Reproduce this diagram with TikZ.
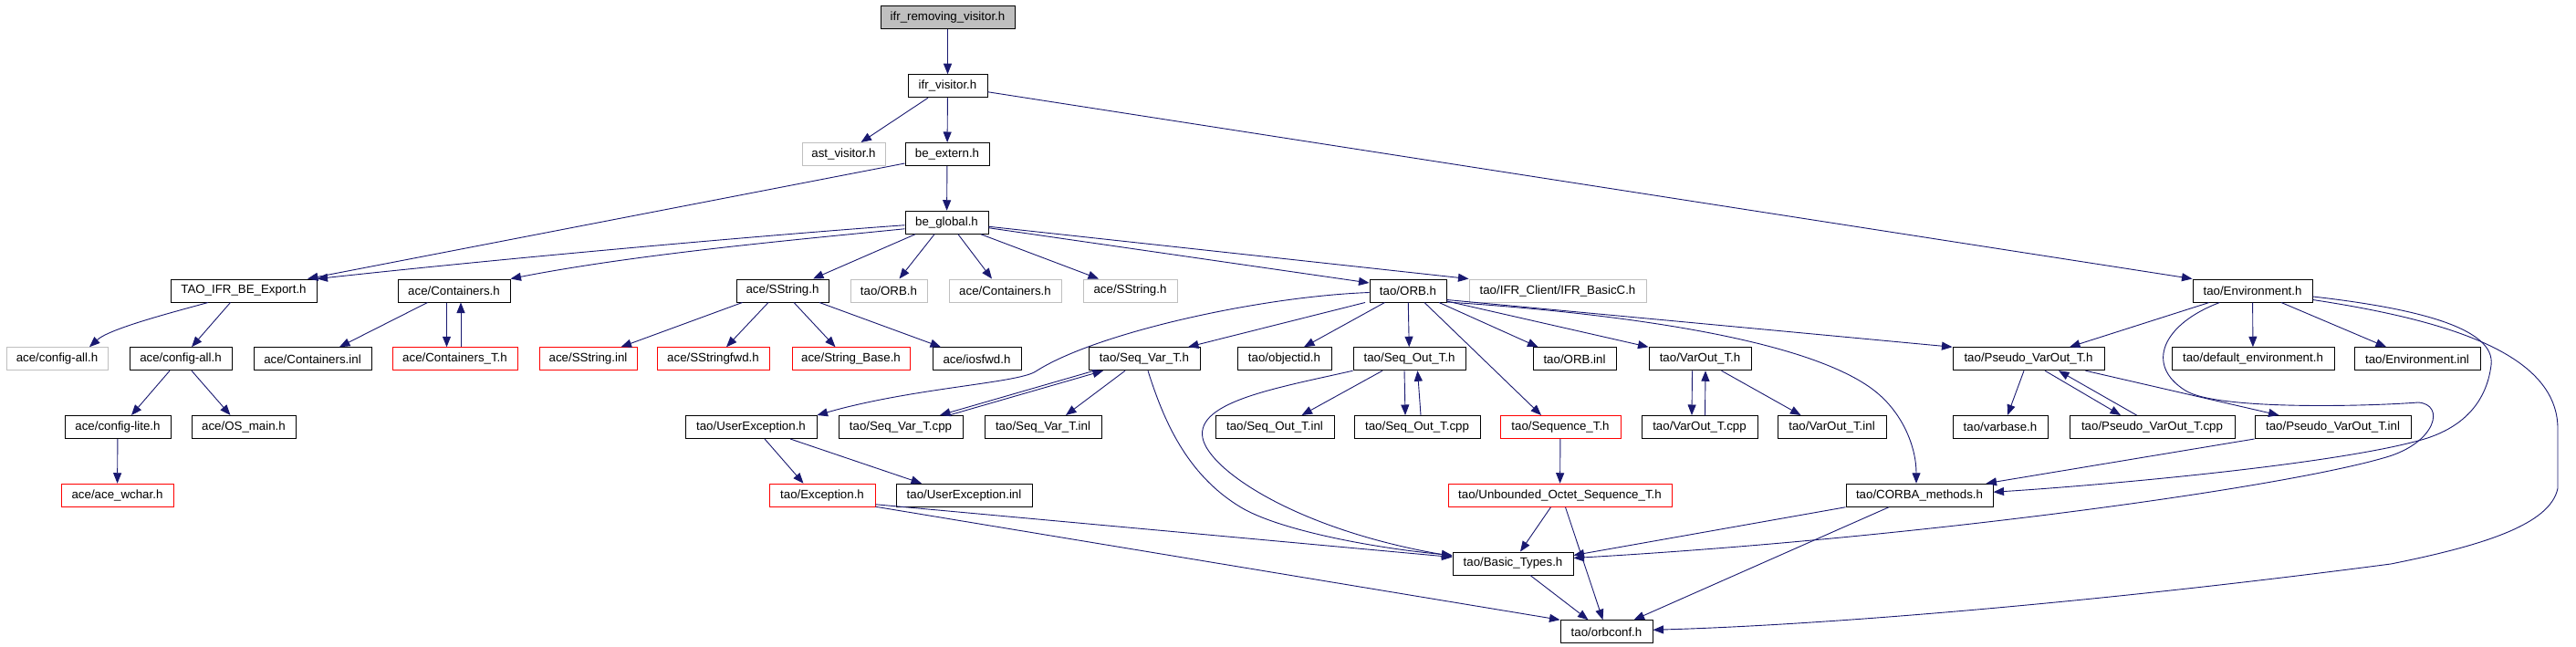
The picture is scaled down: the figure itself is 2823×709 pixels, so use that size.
\documentclass[tikz,border=0pt]{standalone}
\usepackage{fontspec}
\setmainfont{Liberation Sans}
\usetikzlibrary{arrows.meta}
\definecolor{edgec}{HTML}{191970}
\definecolor{graybox}{HTML}{BFBFBF}
\newcommand\lblfont{\fontsize{13.3pt}{15pt}\selectfont}
\begin{document}
\begin{tikzpicture}[x=1pt,y=1pt,
  nb/.style={draw=black, line width=1pt, minimum height=25pt, inner sep=1pt, font=\lblfont, fill=white},
  ng/.style={nb, draw=graybox},
  nr/.style={nb, draw=red},
  e/.style={draw=edgec, line width=0.9pt, -{Triangle[length=11.5pt,width=9pt]}}]
\fill[white] (0,0) rectangle (2823,-709);
\useasboundingbox (0,0) rectangle (2823,-709);
% row 0
\node[nb, fill=graybox, minimum width=147pt] (rem) at (1038.5,-19.5) {ifr\_removing\_visitor.h};
% row 1
\node[nb, minimum width=87pt] (ifrv) at (1038.5,-94.25) {ifr\_visitor.h};
% row 2
\node[ng, minimum width=91pt] (ast) at (924.5,-169) {ast\_visitor.h};
\node[nb, minimum width=92pt] (bext) at (1038,-169) {be\_extern.h};
% row 3
\node[nb, minimum width=91pt] (bglob) at (1037.5,-243.75) {be\_global.h};
% row 4
\node[nb, minimum width=160pt] (taoexp) at (267,-318.5) {TAO\_IFR\_BE\_Export.h};
\node[nb, minimum width=123pt] (cont) at (497.5,-318.5) {ace/Containers.h};
\node[nb, minimum width=101pt] (sstr) at (857.5,-318.5) {ace/SString.h};
\node[ng, minimum width=84pt] (orbg) at (974,-318.5) {tao/ORB.h};
\node[ng, minimum width=123pt] (contg) at (1101.5,-318.5) {ace/Containers.h};
\node[ng, minimum width=103pt] (sstrg) at (1238.5,-318.5) {ace/SString.h};
\node[nb, minimum width=84pt] (orb) at (1543,-318.5) {tao/ORB.h};
\node[ng, minimum width=194pt] (ifrc) at (1707,-318.5) {tao/IFR\_Client/IFR\_BasicC.h};
\node[nb, minimum width=131pt] (env) at (2468.5,-318.5) {tao/Environment.h};
% row 5
\node[ng, minimum width=111pt] (cfgg) at (62.5,-393.25) {ace/config-all.h};
\node[nb, minimum width=112pt] (cfg) at (198,-393.25) {ace/config-all.h};
\node[nb, minimum width=129pt] (coninl) at (342.5,-393.25) {ace/Containers.inl};
\node[nr, minimum width=137pt] (contt) at (498.5,-393.25) {ace/Containers\_T.h};
\node[nr, minimum width=107pt] (sstrinl) at (644.5,-393.25) {ace/SString.inl};
\node[nr, minimum width=123pt] (sfwd) at (781.5,-393.25) {ace/SStringfwd.h};
\node[nr, minimum width=129pt] (strb) at (932.5,-393.25) {ace/String\_Base.h};
\node[nb, minimum width=97pt] (iosfwd) at (1070.5,-393.25) {ace/iosfwd.h};
\node[nb, minimum width=122pt] (seqvar) at (1254,-393.25) {tao/Seq\_Var\_T.h};
\node[nb, minimum width=103pt] (objid) at (1407.5,-393.25) {tao/objectid.h};
\node[nb, minimum width=123pt] (seqout) at (1544.5,-393.25) {tao/Seq\_Out\_T.h};
\node[nb, minimum width=91pt] (orbinl) at (1725.5,-393.25) {tao/ORB.inl};
\node[nb, minimum width=112pt] (varout) at (1863,-393.25) {tao/VarOut\_T.h};
\node[nb, minimum width=166pt] (pvo) at (2223,-393.25) {tao/Pseudo\_VarOut\_T.h};
\node[nb, minimum width=178pt] (defenv) at (2469,-393.25) {tao/default\_environment.h};
\node[nb, minimum width=138pt] (envinl) at (2649,-393.25) {tao/Environment.inl};
% row 6
\node[nb, minimum width=116pt] (cfglite) at (129,-468) {ace/config-lite.h};
\node[nb, minimum width=114pt] (osmain) at (267,-468) {ace/OS\_main.h};
\node[nb, minimum width=144pt] (uexc) at (823,-468) {tao/UserException.h};
\node[nb, minimum width=136pt] (seqvarcpp) at (987,-468) {tao/Seq\_Var\_T.cpp};
\node[nb, minimum width=128pt] (seqvarinl) at (1143,-468) {tao/Seq\_Var\_T.inl};
\node[nb, minimum width=130pt] (seqoutinl) at (1397,-468) {tao/Seq\_Out\_T.inl};
\node[nb, minimum width=138pt] (seqoutcpp) at (1553,-468) {tao/Seq\_Out\_T.cpp};
\node[nr, minimum width=132pt] (seqt) at (1710,-468) {tao/Sequence\_T.h};
\node[nb, minimum width=127pt] (varoutcpp) at (1862.5,-468) {tao/VarOut\_T.cpp};
\node[nb, minimum width=119pt] (varoutinl) at (2007.5,-468) {tao/VarOut\_T.inl};
\node[nb, minimum width=104pt] (varbase) at (2192,-468) {tao/varbase.h};
\node[nb, minimum width=181pt] (pvocpp) at (2358.5,-468) {tao/Pseudo\_VarOut\_T.cpp};
\node[nb, minimum width=171pt] (pvoinl) at (2556.5,-468) {tao/Pseudo\_VarOut\_T.inl};
% row 7
\node[nr, minimum width=123pt] (wchar) at (128.5,-542.75) {ace/ace\_wchar.h};
\node[nr, minimum width=116pt] (exc) at (901,-542.75) {tao/Exception.h};
\node[nb, minimum width=149pt] (uexcinl) at (1056.5,-542.75) {tao/UserException.inl};
\node[nr, minimum width=245pt] (uos) at (1709.5,-542.75) {tao/Unbounded\_Octet\_Sequence\_T.h};
\node[nb, minimum width=161pt] (corba) at (2103.5,-542.75) {tao/CORBA\_methods.h};
% row 8
\node[nb, minimum width=132pt] (basic) at (1658,-617.5) {tao/Basic\_Types.h};
% row 9
\node[nb, minimum width=101pt] (orbconf) at (1760.5,-692.25) {tao/orbconf.h};

% edges
\draw[e] (rem) -- (ifrv);
\draw[e] ([xshift=-21.5pt]ifrv.south) -- ([xshift=19pt]ast.north);
\draw[e] (ifrv) -- (bext);
\draw[e] ([yshift=-6.5pt]ifrv.east) -- (env.north west);
\draw[e] (bext) -- (bglob);
\draw[e] ([yshift=-10pt]bext.west) -- ([xshift=70pt]taoexp.north);
\draw[e] ([yshift=-3pt]bglob.west) .. controls (900,-253) and (600,-278) .. (taoexp.north east);
\draw[e] ([yshift=-7pt]bglob.west) .. controls (880,-262) and (700,-278) .. (cont.north east);
\draw[e] ([xshift=-34.5pt]bglob.south) -- ([xshift=33.5pt]sstr.north);
\draw[e] ([xshift=-13.5pt]bglob.south) -- ([xshift=11.5pt]orbg.north);
\draw[e] ([xshift=12.5pt]bglob.south) -- ([xshift=-14.5pt]contg.north);
\draw[e] ([xshift=37.5pt]bglob.south) -- ([xshift=-34.5pt]sstrg.north);
\draw[e] ([yshift=-6pt]bglob.east) -- ([yshift=8.5pt]orb.west);
\draw[e] ([yshift=-4.5pt]bglob.east) -- (ifrc.north west);
\draw[e] ([xshift=-39pt]taoexp.south) .. controls (190,-342) and (120,-360) .. ([xshift=35.5pt]cfgg.north);
\draw[e] ([xshift=-14.5pt]taoexp.south) -- ([xshift=12pt]cfg.north);
\draw[e] ([xshift=-12pt]cfg.south) -- ([xshift=15pt]cfglite.north);
\draw[e] ([xshift=12pt]cfg.south) -- ([xshift=-14.5pt]osmain.north);
\draw[e] (cfglite) -- (wchar);
\draw[e] ([xshift=-29pt]cont.south) -- ([xshift=29.5pt]coninl.north);
\draw[e] ([xshift=-8pt]cont.south) -- ([xshift=-9pt]contt.north);
\draw[e] ([xshift=6.5pt]contt.north) -- ([xshift=7.5pt]cont.south);
\draw[e] ([xshift=-44pt]sstr.south) -- ([xshift=36pt]sstrinl.north);
\draw[e] ([xshift=-15.5pt]sstr.south) -- ([xshift=14.5pt]sfwd.north);
\draw[e] ([xshift=12.5pt]sstr.south) -- ([xshift=-17pt]strb.north);
\draw[e] ([xshift=40.5pt]sstr.south) -- ([xshift=-39.5pt]iosfwd.north);
% ORB.h
\draw[e] ([yshift=-2pt]orb.west) .. controls (1380,-325) and (1200,-365) .. (1135,-407) .. controls (1115,-420) and (1000,-425) .. (uexc.north east);
\draw[e] ([xshift=-47pt]orb.south) -- ([xshift=48pt]seqvar.north);
\draw[e] ([xshift=-25.5pt]orb.south) -- ([xshift=21.5pt]objid.north);
\draw[e] (orb) -- (seqout);
\draw[e] ([xshift=18pt]orb.south) -- ([xshift=-21pt]seqt.north);
\draw[e] ([xshift=34pt]orb.south) -- ([xshift=-40pt]orbinl.north);
\draw[e] ([yshift=-11.5pt]orb.east) -- (varout.north west);
\draw[e] ([yshift=-10pt]orb.east) -- (pvo.north west);
\draw[e] ([yshift=-12.5pt]orb.east) .. controls (1800,-345) and (1980,-375) .. (2050,-425) .. controls (2085,-450) and (2100,-490) .. ([xshift=-3.5pt]corba.north);
% UserException
\draw[e] ([xshift=15pt]uexc.south) -- ([xshift=-20.5pt]exc.north);
\draw[e] ([xshift=43pt]uexc.south) -- ([xshift=-46.5pt]uexcinl.north);
\draw[e] ([yshift=-10pt]exc.east) -- ([yshift=7pt]basic.west);
\draw[e] ([yshift=-12.5pt]exc.east) -- (orbconf.north west);
% Seq_Var
\draw[e] ([xshift=-55pt]seqvar.south) -- ([xshift=43pt]seqvarcpp.north);
\draw[e] ([xshift=53pt]seqvarcpp.north) -- ([xshift=-45pt]seqvar.south);
\draw[e] ([xshift=-21pt]seqvar.south) -- ([xshift=25pt]seqvarinl.north);
\draw[e] ([xshift=4pt]seqvar.south) .. controls (1275,-460) and (1300,-520) .. (1360,-556) .. controls (1400,-580) and (1500,-600) .. ([yshift=9pt]basic.west);
% Seq_Out
\draw[e] ([xshift=-29.5pt]seqout.south) -- ([xshift=29.5pt]seqoutinl.north);
\draw[e] ([xshift=-5.5pt]seqout.south) -- ([xshift=-13pt]seqoutcpp.north);
\draw[e] ([xshift=4pt]seqoutcpp.north) -- ([xshift=9pt]seqout.south);
\draw[e] (seqout.south west) .. controls (1400,-425) and (1310,-440) .. (1318,-480) .. controls (1325,-515) and (1420,-580) .. ([yshift=8pt]basic.west);
% Sequence
\draw[e] (seqt) -- (uos);
\draw[e] ([xshift=-10pt]uos.south) -- ([xshift=8pt]basic.north);
\draw[e] ([xshift=6pt]uos.south) -- ([xshift=-4pt]orbconf.north);
% VarOut
\draw[e] ([xshift=-8.5pt]varout.south) -- ([xshift=-8.5pt]varoutcpp.north);
\draw[e] ([xshift=6pt]varoutcpp.north) -- ([xshift=6pt]varout.south);
\draw[e] ([xshift=23.5pt]varout.south) -- ([xshift=-34pt]varoutinl.north);
% Pseudo_VarOut
\draw[e] ([xshift=-5pt]pvo.south) -- ([xshift=8pt]varbase.north);
\draw[e] ([xshift=18pt]pvo.south) -- ([xshift=-34.5pt]pvocpp.north);
\draw[e] ([xshift=-17pt]pvocpp.north) -- ([xshift=33pt]pvo.south);
\draw[e] ([xshift=62.5pt]pvo.south) -- ([xshift=-59pt]pvoinl.north);
\draw[e] (pvoinl.south west) -- ([xshift=73pt]corba.north);
% CORBA, Basic
\draw[e] (corba.south west) -- ([yshift=9pt]basic.east);
\draw[e] ([xshift=-33.5pt]corba.south) -- ([xshift=30pt]orbconf.north);
\draw[e] ([xshift=19pt]basic.south) -- ([xshift=-20pt]orbconf.north);
% Environment
\draw[e] ([xshift=-47.5pt]env.south) -- ([xshift=45pt]pvo.north);
\draw[e] (env) -- (defenv);
\draw[e] ([xshift=31.5pt]env.south) -- ([xshift=-34pt]envinl.north);
\draw[e] ([yshift=-6.5pt]env.east) .. controls (2650,-338) and (2735,-360) .. (2730,-400) .. controls (2725,-440) and (2700,-470) .. (2650,-483) .. controls (2550,-510) and (2300,-532) .. ([yshift=3.5pt]corba.east);
\draw[e] ([yshift=-10pt]env.east) .. controls (2690,-352) and (2803,-390) .. (2803,-470) -- (2803,-535) .. controls (2795,-575) and (2720,-598) .. (2620,-618) .. controls (2300,-660) and (2000,-685) .. ([yshift=2pt]orbconf.east);
\draw[e] ([xshift=-36pt]env.south) .. controls (2370,-355) and (2350,-400) .. (2395,-428) .. controls (2430,-450) and (2600,-445) .. (2650,-441) .. controls (2680,-443) and (2670,-485) .. (2615,-501) .. controls (2500,-535) and (2100,-590) .. ([yshift=6pt]basic.east);
\end{tikzpicture}
\end{document}
